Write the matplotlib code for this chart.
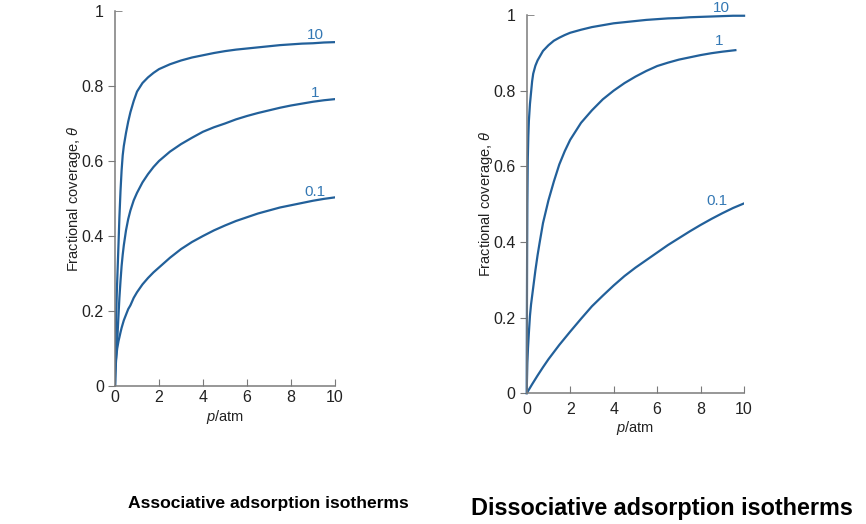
import matplotlib
matplotlib.use("Agg")
import matplotlib.pyplot as plt

plt.rcParams['font.family'] = ['Liberation Sans', 'DejaVu Sans']
plt.rcParams['mathtext.fontset'] = 'custom'
plt.rcParams['mathtext.it'] = 'Liberation Sans:italic'

# associative panel: pressure (atm) and coverage for K = 10, 1, 0.1
p_left = [0, 0.01, 0.02, 0.04, 0.06, 0.08, 0.1, 0.13, 0.16, 0.2, 0.25, 0.3, 0.35, 0.4,
          0.5, 0.6, 0.7, 0.85, 1.0, 1.25, 1.5, 1.75, 2.0, 2.5, 3.0, 3.5, 4.0, 4.5,
          5.0, 5.5, 6.0, 6.5, 7.0, 7.5, 8.0, 8.5, 9.0, 9.5, 10.0]
theta_left_10 = [0, 0.05, 0.09, 0.15, 0.20, 0.245, 0.28, 0.33, 0.38, 0.45, 0.52, 0.575, 0.615, 0.64,
                 0.675, 0.705, 0.73, 0.76, 0.785, 0.808, 0.823, 0.835, 0.845, 0.858, 0.868, 0.876,
                 0.882, 0.888, 0.893, 0.897, 0.900, 0.903, 0.906, 0.909, 0.911, 0.913, 0.914,
                 0.916, 0.917]
theta_left_1 = [0, 0.02, 0.035, 0.06, 0.08, 0.10, 0.12, 0.155, 0.19, 0.235, 0.28, 0.32, 0.35, 0.375,
                0.415, 0.445, 0.468, 0.495, 0.515, 0.543, 0.565, 0.584, 0.60, 0.625, 0.645, 0.662,
                0.678, 0.69, 0.70, 0.711, 0.72, 0.728, 0.735, 0.742, 0.748, 0.753, 0.758, 0.762,
                0.765]
theta_left_01 = [0, 0.035, 0.05, 0.068, 0.08, 0.09, 0.10, 0.11, 0.12, 0.13, 0.143, 0.155, 0.165,
                 0.175, 0.19, 0.205, 0.215, 0.235, 0.25, 0.271, 0.288, 0.303, 0.316, 0.342, 0.365,
                 0.384, 0.40, 0.415, 0.428, 0.44, 0.45, 0.46, 0.468, 0.476, 0.482, 0.488, 0.494,
                 0.499, 0.503]

# dissociative panel
p_right_10 = [0, 0.005, 0.01, 0.02, 0.03, 0.05, 0.075, 0.1, 0.15, 0.2, 0.25, 0.3, 0.4, 0.5, 0.6,
              0.75, 1.0, 1.25, 1.5, 1.75, 2.0, 2.5, 3.0, 3.5, 4.0, 4.5, 5.0, 5.5, 6.0, 6.5, 7.0,
              7.5, 8.0, 8.5, 9.0, 9.5, 10.0]
theta_right_10 = [0, 0.12, 0.22, 0.38, 0.50, 0.62, 0.68, 0.72, 0.765, 0.795, 0.825, 0.845, 0.866,
                  0.88, 0.89, 0.905, 0.92, 0.932, 0.94, 0.947, 0.953, 0.961, 0.968, 0.973, 0.978,
                  0.981, 0.984, 0.987, 0.989, 0.991, 0.992, 0.994, 0.995, 0.996, 0.997, 0.998,
                  0.998]
p_right_1 = [0, 0.01, 0.03, 0.06, 0.1, 0.15, 0.2, 0.3, 0.4, 0.5, 0.6, 0.75, 1.0, 1.25, 1.5, 1.75,
             2.0, 2.5, 3.0, 3.5, 4.0, 4.5, 5.0, 5.5, 6.0, 6.5, 7.0, 7.5, 8.0, 8.5, 9.0, 9.6]
theta_right_1 = [0, 0.03, 0.08, 0.12, 0.16, 0.205, 0.235, 0.28, 0.325, 0.365, 0.40, 0.45, 0.51,
                 0.56, 0.605, 0.64, 0.67, 0.715, 0.748, 0.777, 0.80, 0.82, 0.837, 0.852, 0.865,
                 0.874, 0.882, 0.888, 0.894, 0.899, 0.903, 0.907]
p_right_01 = [0, 0.25, 0.5, 0.75, 1.0, 1.5, 2.0, 2.5, 3.0, 3.5, 4.0, 4.5, 5.0, 5.5, 6.0, 6.5,
              7.0, 7.5, 8.0, 8.5, 9.0, 9.5, 10.0]
theta_right_01 = [0, 0.024, 0.047, 0.069, 0.09, 0.128, 0.163, 0.197, 0.23, 0.258, 0.285, 0.31,
                  0.332, 0.352, 0.372, 0.392, 0.41, 0.428, 0.445, 0.461, 0.476, 0.49, 0.502]

curve_labels = ['10', '1', '0.1']
yticks = [0, 0.2, 0.4, 0.6, 0.8]
ytick_labels = ['0', '0.2', '0.4', '0.6', '0.8']
xticks = [0, 2, 4, 6, 8, 10]

line_col = '#22609a'
label_col = '#3478b4'
axis_col = '#7a7a7a'
text_col = '#222222'


def style_axes(ax, xpad):
    ax.set_xlim(0, 10)
    ax.set_ylim(0, 1)
    for side in ('top', 'right'):
        ax.spines[side].set_visible(False)
    for side in ('left', 'bottom'):
        ax.spines[side].set_color(axis_col)
        ax.spines[side].set_linewidth(1.1)
    ax.set_xticks(xticks)
    ax.set_yticks(yticks, labels=ytick_labels)
    ax.set_yticks([1], labels=['1'], minor=True)
    ax.tick_params(axis='x', direction='in', length=5, color=axis_col,
                   labelsize=11.5, pad=xpad, labelcolor=text_col)
    ax.tick_params(axis='y', which='major', direction='out', length=5, color=axis_col,
                   labelsize=11.5, pad=3, labelcolor=text_col)
    ax.tick_params(axis='y', which='minor', direction='in', length=5, color=axis_col,
                   labelsize=11.5, pad=8, labelcolor=text_col)
    ax.set_xlabel(r'$\mathit{p}$/atm', fontsize=10.5, labelpad=2, color=text_col)
    ax.set_ylabel(r'Fractional coverage, $\mathit{\theta}$', fontsize=10.5, labelpad=-1,
                  color=text_col)
    ax.set_facecolor('none')


fig = plt.figure(figsize=(8.66, 5.24), dpi=100)

ax1 = fig.add_axes([0.1328, 0.2634, 0.254, 0.7156])
ax1.plot(p_left, theta_left_10, color=line_col, lw=1.6)
ax1.plot(p_left, theta_left_1, color=line_col, lw=1.6)
ax1.plot(p_left, theta_left_01, color=line_col, lw=1.6)
style_axes(ax1, 3)
for txt, (px, py) in zip(curve_labels, [(9.1, 0.937), (9.1, 0.782), (9.1, 0.518)]):
    ax1.text(px, py, txt, color=label_col, fontsize=11, ha='center', va='center')

ax2 = fig.add_axes([0.6082, 0.2494, 0.251, 0.722])
ax2.plot(p_right_10, theta_right_10, color=line_col, lw=1.6, clip_on=False)
ax2.plot(p_right_1, theta_right_1, color=line_col, lw=1.6)
ax2.plot(p_right_01, theta_right_01, color=line_col, lw=1.6)
style_axes(ax2, 6)
for txt, (px, py) in zip(curve_labels, [(8.95, 1.018), (8.87, 0.93), (8.77, 0.508)]):
    ax2.text(px, py, txt, color=label_col, fontsize=11, ha='center', va='center', clip_on=False)

fig.text(0.310, 0.04, 'Associative adsorption isotherms', fontsize=12.6,
         fontweight='bold', ha='center', va='center')
fig.text(0.764, 0.029, 'Dissociative adsorption isotherms', fontsize=16.8,
         fontweight='bold', ha='center', va='center')

fig.savefig('out.png', dpi=100)
